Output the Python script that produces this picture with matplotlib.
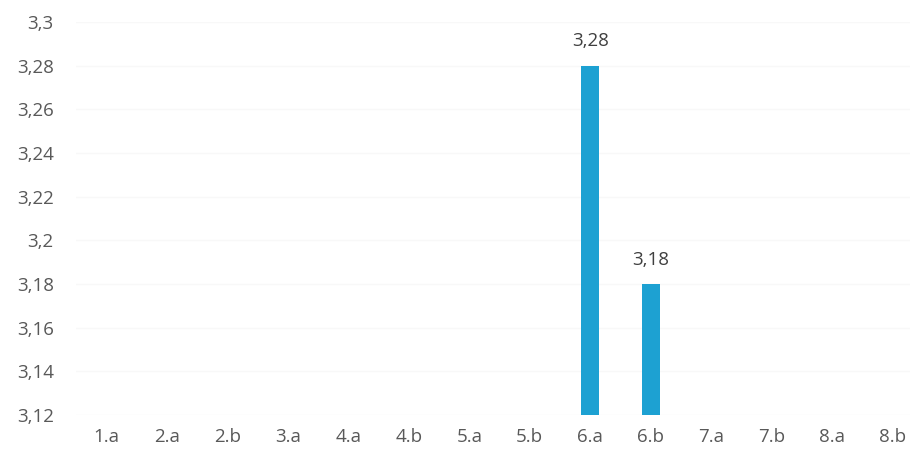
import matplotlib.pyplot as plt
import numpy as np

plt.rcParams['font.family'] = ['Open Sans', 'DejaVu Sans']

# Data (only 6.a and 6.b rise above the visible axis floor of 3,12)
categories = ['1.a', '2.a', '2.b', '3.a', '4.a', '4.b', '5.a', '5.b',
              '6.a', '6.b', '7.a', '7.b', '8.a', '8.b']
values = [np.nan] * 8 + [3.28, 3.18] + [np.nan] * 4
y_ticks = [3.12, 3.14, 3.16, 3.18, 3.2, 3.22, 3.24, 3.26, 3.28, 3.3]

bar_color = '#1da1d2'
text_color = '#595959'

fig = plt.figure(figsize=(9.1, 4.58), dpi=100)
ax = fig.add_axes([76 / 910, 1 - 415 / 458, 1 - 76 / 910, (415 - 22) / 458])

x = np.arange(len(categories))
bars = ax.bar(x, values, width=0.3, color=bar_color, zorder=3)

for xi, v in zip(x, values):
    if not np.isnan(v):
        ax.text(xi, v + 0.007, f'{v:.2f}'.replace('.', ','),
                ha='center', va='bottom', fontsize=13.5, color='#404040')

ax.set_xlim(-0.5, 13.285)
ax.set_ylim(3.12, 3.3)
ax.set_xticks(x)
ax.set_xticklabels(categories)
ax.set_yticks(y_ticks)
ax.set_yticklabels([f'{t:g}'.replace('.', ',') for t in y_ticks])

ax.tick_params(axis='both', length=0, labelsize=13.5, colors=text_color)
ax.tick_params(axis='y', pad=16)
ax.tick_params(axis='x', pad=9)
ax.yaxis.grid(True, color='#f8f8f8', linewidth=1, zorder=0)
for s in ax.spines.values():
    s.set_visible(False)

fig.savefig('out.png', dpi=100)
